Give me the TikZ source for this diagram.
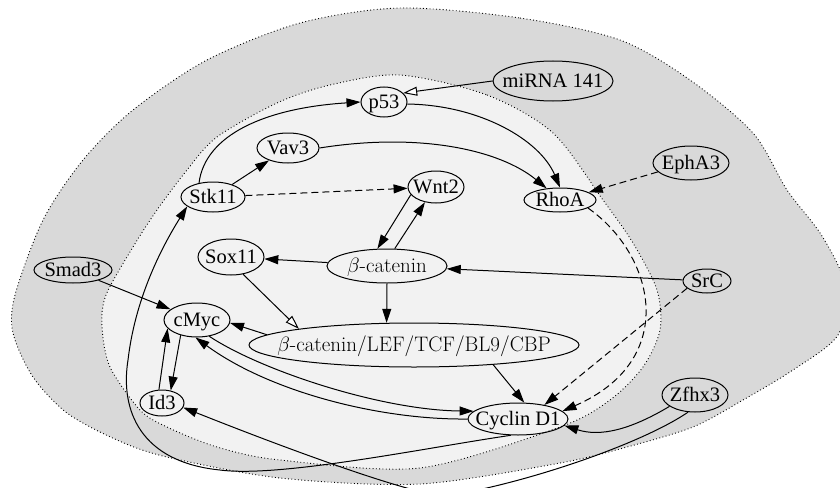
\documentclass[tikz,border=0pt]{standalone}
\usepackage{fontspec}
\setmainfont{Liberation Serif}
\newfontfamily\lmr{Latin Modern Roman}
\usetikzlibrary{arrows.meta,shapes.geometric}
\definecolor{outerc}{RGB}{217,217,217}
\definecolor{innerc}{RGB}{242,242,242}
\newcommand{\lbl}[1]{\makebox[0pt]{\raisebox{-0.33em}[0pt][0pt]{#1}}}
\begin{document}
\begin{tikzpicture}[x=1pt,y=-1pt,
  nd/.style args={#1/#2}{ellipse, draw, line width=1pt, inner sep=0pt,
     minimum width=2*#1, minimum height=2*#2},
  tn/.style={font={\fontsize{20.5}{24}\selectfont}},
  ln/.style={font={\lmr\fontsize{21}{25}\selectfont}},
  conn/.style={line width=1pt, -{Triangle[length=14pt,width=9pt]}},
  dconn/.style={conn, dash pattern=on 7pt off 4pt},
  oconn/.style={line width=1pt, -{Triangle[open,fill=white,length=14pt,width=9pt]}},
  bd/.style={line width=0.9pt, dash pattern=on 0.9pt off 2.4pt}]
\useasboundingbox (0,0) rectangle (840,487);
% regions
\filldraw[fill=outerc, draw=black, bd] plot[smooth cycle, tension=0.5] coordinates {
 (400,8) (520,18) (620,40) (690,80) (753,133) (787,190) (822,236) (845,285)
 (838,335) (793,370) (743,400) (693,427) (627,447) (560,463) (420,484)
 (280,478) (167,457) (117,440) (67,413) (33,377) (13,333) (15,295)
 (43,220) (83,160) (133,110) (207,60) (300,23)};
\filldraw[fill=innerc, draw=black, bd] plot[smooth cycle, tension=0.5] coordinates {
 (400,75) (487,95) (553,133) (603,200) (633,243) (657,290) (660,330)
 (643,367) (610,400) (560,427) (420,468) (280,460) (217,447) (167,427)
 (140,410) (110,367) (102,327) (106,295) (133,247) (157,210) (187,170)
 (217,137) (277,103) (330,85)};
% nodes
\node[nd=23/15, tn] (p53) at (384,102) {\lbl{p53}};
\node[nd=60/20, tn] (mirna) at (553,81) {\lbl{miRNA 141}};
\node[nd=31/15, tn] (vav3) at (288,148) {\lbl{Vav3}};
\node[nd=32/15, tn] (stk11) at (213,197) {\lbl{Stk11}};
\node[nd=28/16, tn] (wnt2) at (436,187) {\lbl{Wnt2}};
\node[nd=36/12, tn] (rhoa) at (560,200) {\lbl{RhoA}};
\node[nd=38/17, tn] (epha3) at (691,163) {\lbl{EphA3}};
\node[nd=60/17, ln] (bcat) at (387,266) {\lbl{$\beta$-catenin}};
\node[nd=33/18, tn] (sox11) at (231,257) {\lbl{Sox11}};
\node[nd=39/13, tn] (smad3) at (73,270) {\lbl{Smad3}};
\node[nd=33/17, tn] (cmyc) at (197,320) {\lbl{cMyc}};
\node[nd=165/22, ln] (cplx) at (414,345) {\lbl{$\beta$-catenin/LEF/TCF/BL9/CBP}};
\node[nd=22/13, tn] (id3) at (162,403) {\lbl{Id3}};
\node[nd=50/16, tn] (cyc) at (518,419) {\lbl{Cyclin D1}};
\node[nd=24/12, tn] (src) at (707,281) {\lbl{SrC}};
\node[nd=33/17, tn] (zfhx3) at (695,395) {\lbl{Zfhx3}};
% edges
\draw[conn] (stk11.135) .. controls (205,135) and (265,108) .. (p53.west);
\draw[conn] (stk11) -- (vav3);
\draw[dconn] (stk11) -- (wnt2);
\draw[conn] (vav3.east) .. controls (420,132) and (500,150) .. (rhoa.139);
\draw[conn] (p53.-5) .. controls (480,105) and (540,140) .. (rhoa.north);
\draw[oconn] (mirna.west) -- (p53.25);
\draw[dconn] (epha3.-165) -- (rhoa.15);
\draw[dconn] (rhoa.-16) .. controls (655,255) and (680,360) .. (cyc.10);
\draw[dconn] (src.-160) -- (cyc.28);
\draw[conn] (src) -- (bcat);
\draw[conn] (wnt2.-163) -- (bcat.119);
\draw[conn] (bcat.66) -- (wnt2.-126);
\draw[conn] (bcat) -- (sox11);
\draw[conn] (bcat.south) -- (cplx.141);
\draw[oconn] (sox11.-55) -- (cplx.172);
\draw[conn] (cplx.176) -- (cmyc.-5);
\draw[conn] (cplx.-14) -- (cyc.69);
\draw[conn] (smad3) -- (cmyc);
\draw[conn] (cmyc.-137) -- (id3.55);
\draw[conn] (id3.103) -- (cmyc.-164);
\draw[conn] (cmyc.-53) .. controls (260,370) and (380,410) .. (cyc.170);
\draw[conn] (cyc.180) .. controls (380,420) and (270,392) .. (cmyc.-95);
\draw[conn] (cyc.-114) .. controls (430,447) and (280,478) .. (220,470)
   .. controls (140,462) and (120,410) .. (128,360)
   .. controls (135,300) and (160,250) .. (stk11.-160);
\draw[conn] (zfhx3.-156) .. controls (630,430) and (600,437) .. (cyc.-8);
\draw[conn] (zfhx3.-112) .. controls (640,445) and (520,485) .. (445,496)
   .. controls (410,494) and (290,450) .. (id3.-12);
\end{tikzpicture}
\end{document}
